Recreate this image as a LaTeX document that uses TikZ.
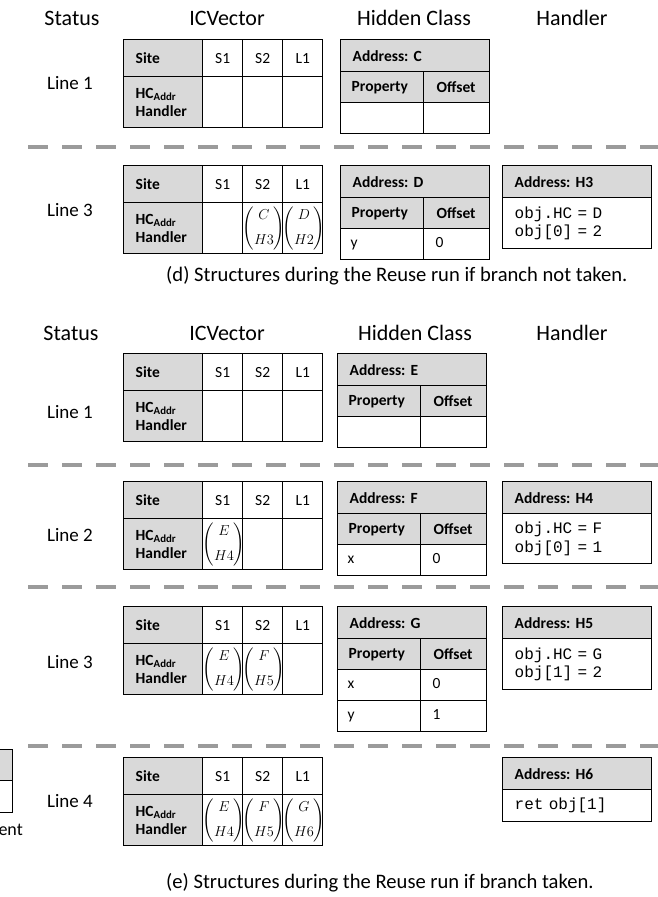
\documentclass[tikz,border=0pt]{standalone}
\usepackage{amsmath}
\usepackage{fontspec}
\setmainfont{Carlito}
\setmonofont{Liberation Mono}
\frenchspacing
\definecolor{hdrgray}{RGB}{217,217,217}
\definecolor{sepgray}{RGB}{155,155,155}
\newcommand{\tabfont}{\fontsize{15.5}{18}\selectfont}
\newcommand{\codefont}{\fontsize{16}{18.5}\selectfont\ttfamily}
\newcommand{\headfont}{\fontsize{22}{26}\selectfont}
\newcommand{\linefont}{\fontsize{19}{22}\selectfont}
\newcommand{\capfont}{\fontsize{20.6}{24}\selectfont}
\newcommand{\hcpair}[2]{\fontsize{15.5}{17}\selectfont$\left(\begin{array}{@{}c@{}}#1\\[8pt]#2\end{array}\right)$}
\tikzset{
  cellbase/.style={draw=black, line width=1.4pt, inner ysep=0pt, anchor=north west, font=\tabfont},
  grayL/.style={cellbase, fill=hdrgray, inner xsep=12pt, align=left, font=\tabfont\bfseries},
  whiteL/.style={cellbase, fill=white, inner xsep=10pt, align=left, execute at begin node=\strut},
  whiteC/.style={cellbase, fill=white, inner xsep=0pt, align=center},
  codecell/.style={cellbase, fill=white, inner xsep=12pt, align=left, font=\codefont},
  colhead/.style={font=\headfont, inner sep=0pt},
  linelab/.style={font=\linefont, inner sep=0pt},
  captext/.style={font=\capfont, inner sep=0pt, anchor=west},
  sepline/.style={draw=sepgray, line width=4.6pt, dash pattern=on 20pt off 14pt},
}
% IC vector table: name, top y, S1, S2, L1
\newcommand{\ICtab}[5]{%
  \node[grayL, text width=55pt, minimum height=37pt] (#1site) at (123,#2) {Site};
  \node[whiteC, text width=40pt, minimum height=37pt] (#1hSa) at (202,#2) {S1};
  \node[whiteC, text width=40pt, minimum height=37pt] (#1hSb) at (242,#2) {S2};
  \node[whiteC, text width=40pt, minimum height=37pt] (#1hLa) at (282,#2) {L1};
  \node[grayL, text width=55pt, minimum height=51pt] (#1hc) at (123,{#2+37}) {HC\textsubscript{Addr}\\Handler};
  \node[whiteC, text width=40pt, minimum height=51pt] (#1Sa) at (202,{#2+37}) {#3};
  \node[whiteC, text width=40pt, minimum height=51pt] (#1Sb) at (242,{#2+37}) {#4};
  \node[whiteC, text width=40pt, minimum height=51pt] (#1La) at (282,{#2+37}) {#5};
}
% hidden class header: name, x, y, letter
\newcommand{\HCtab}[4]{%
  \node[grayL, text width=125pt, minimum height=32pt] (#1addr) at (#2,#3) {Address: #4};
  \node[grayL, inner xsep=11pt, text width=61pt, minimum height=31pt] (#1prop) at (#2,{#3+32}) {Property};
  \node[grayL, inner xsep=13pt, text width=40pt, minimum height=31pt] (#1off) at ({#2+83},{#3+32}) {Offset};
}
% hidden class data row: name, x, y, prop, offset
\newcommand{\HCrow}[5]{%
  \node[whiteL, text width=63pt, minimum height=31pt] (#1p) at (#2,#3) {#4};
  \node[whiteL, inner xsep=12pt, text width=42pt, minimum height=31pt] (#1o) at ({#2+83},#3) {#5};
}
% handler box: name, y, address, body height, code
\newcommand{\HDbox}[5]{%
  \node[grayL, text width=125pt, minimum height=32pt] (#1addr) at (502,#2) {Address: #3};
  \node[codecell, text width=125pt, minimum height=#4] (#1code) at (502,{#2+32}) {#5};
}
\begin{document}
\begin{tikzpicture}[x=1pt,y=-1pt]
\useasboundingbox (0,0) rectangle (658,897);
\clip (0,0) rectangle (658,897);
\fill[white] (0,0) rectangle (658,897);

% ===== (d) =====
\node[colhead] (dStatus) at (72,18) {Status};
\node[colhead] (dIC) at (227,18) {ICVector};
\node[colhead] (dHC) at (414,18) {Hidden Class};
\node[colhead] (dHD) at (572,18) {Handler};

\node[linelab] (dL1) at (70,83) {Line 1};
\ICtab{da}{39}{}{}{}
\HCtab{dC}{340}{39}{C}
\HCrow{dCr1}{340}{102}{}{}

\coordinate (sepAa) at (28.3,147);
\coordinate (sepAb) at (680,147);
\draw[sepline] (sepAa) -- (sepAb);

\node[linelab] (dL3) at (70,210) {Line 3};
\ICtab{db}{165}{}{\hcpair{C}{H3}}{\hcpair{D}{H2}}
\HCtab{dD}{340}{165}{D}
\HCrow{dDr1}{340}{228}{y}{0}
\HDbox{dH3}{165}{H3}{51pt}{obj.HC = D\\obj[0] = 2}

\node[captext] (dcap) at (166,276) {(d) Structures during the Reuse run if branch not taken.};

% ===== (e) =====
\node[colhead] (eStatus) at (71,333) {Status};
\node[colhead] (eIC) at (227,333) {ICVector};
\node[colhead] (eHC) at (415,333) {Hidden Class};
\node[colhead] (eHD) at (572,333) {Handler};

\node[linelab] (eL1) at (70,412) {Line 1};
\ICtab{ea}{353}{}{}{}
\HCtab{eE}{337}{353}{E}
\HCrow{eEr1}{337}{416}{}{}

\coordinate (sepBa) at (28.3,465);
\coordinate (sepBb) at (680,465);
\draw[sepline] (sepBa) -- (sepBb);

\node[linelab] (eL2) at (70,535) {Line 2};
\ICtab{eb}{481}{\hcpair{E}{H4}}{}{}
\HCtab{eF}{337}{481}{F}
\HCrow{eFr1}{337}{544}{x}{0}
\HDbox{eH4}{481}{H4}{50pt}{obj.HC = F\\obj[0] = 1}

\coordinate (sepCa) at (28.3,587);
\coordinate (sepCb) at (680,587);
\draw[sepline] (sepCa) -- (sepCb);

\node[linelab] (eL3) at (70,662) {Line 3};
\ICtab{ec}{606}{\hcpair{E}{H4}}{\hcpair{F}{H5}}{}
\HCtab{eG}{337}{606}{G}
\HCrow{eGr1}{337}{669}{x}{0}
\HCrow{eGr2}{337}{700}{y}{1}
\HDbox{eH5}{606}{H5}{51pt}{obj.HC = G\\obj[1] = 2}

\coordinate (sepDa) at (28.3,746);
\coordinate (sepDb) at (680,746);
\draw[sepline] (sepDa) -- (sepDb);

% clipped remains of a neighbouring figure
\node[cellbase, fill=hdrgray, minimum width=60pt, minimum height=31pt, inner xsep=0pt] (prevA) at (-48,749) {};
\node[cellbase, fill=white, minimum width=60pt, minimum height=32pt, inner xsep=0pt] (prevB) at (-48,780) {};
\node[font=\fontsize{18}{21}\selectfont, inner sep=0pt, anchor=east] (prevT) at (23,830) {ent};

\node[linelab] (eL4) at (70,801) {Line 4};
\ICtab{ed}{757}{\hcpair{E}{H4}}{\hcpair{F}{H5}}{\hcpair{G}{H6}}
\HDbox{eH6}{757}{H6}{32pt}{ret obj[1]}

\node[captext] (ecap) at (166,883) {(e) Structures during the Reuse run if branch taken.};
\end{tikzpicture}
\end{document}
